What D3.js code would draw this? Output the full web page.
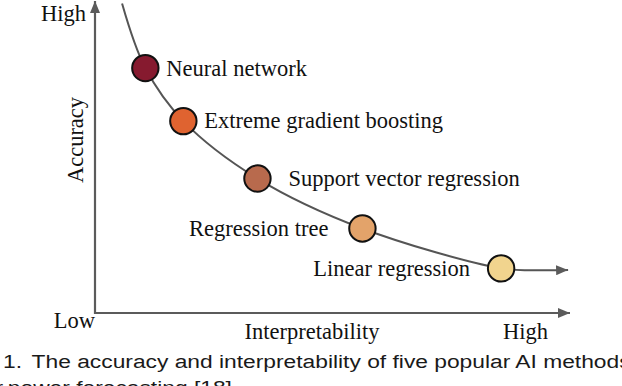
<!DOCTYPE html>
<html>
<head>
<meta charset="utf-8">
<script src="https://cdn.jsdelivr.net/npm/d3@7"></script>
<style>
  html, body { margin: 0; padding: 0; background: #fff; }
  svg { display: block; }
</style>
</head>
<body>
<svg id="chart" width="622" height="386"></svg>
<script>
// ---- data ----
const methods = ["Neural network", "Extreme gradient boosting", "Support vector regression", "Regression tree", "Linear regression"];
const interpretability = [1.06, 1.86, 3.42, 5.63, 8.55];
const accuracy = [7.85, 6.15, 4.31, 2.71, 1.43];
const methodColors = ["#861a2f", "#df6330", "#b86a4d", "#e3a36a", "#f1d48e"];
// trade-off curve (start, through the methods, end)
const curveX = [0.57, 1.06, 1.86, 3.42, 5.63, 8.55, 9.2, 9.96];
const curveY = [9.92, 7.85, 6.15, 4.31, 2.71, 1.43, 1.37, 1.38];
const axisLabels = { yTitle: "Accuracy", xTitle: "Interpretability", low: "Low", high: "High" };
const captionLine1 = "The accuracy and interpretability of five popular AI methods in";
const captionLine2 = "power forecasting [18]";

// ---- layout ----
const svg = d3.select("#chart");
const x = d3.scaleLinear().domain([0, 10]).range([95, 570]);
const y = d3.scaleLinear().domain([0, 10]).range([313, 1]);
const serif = "'Liberation Serif', 'Times New Roman', serif";
const fs = 22.5;
const axisColor = "#5b5b5b";

const defs = svg.append("defs");
defs.append("marker")
  .attr("id", "arrow")
  .attr("viewBox", "0 0 12 10")
  .attr("refX", 12).attr("refY", 5)
  .attr("markerUnits", "userSpaceOnUse")
  .attr("markerWidth", 12).attr("markerHeight", 10)
  .attr("orient", "auto")
  .append("path").attr("d", "M0,0 L12,5 L0,10 Z").attr("fill", axisColor);

// axes
svg.append("path")
  .attr("d", d3.line()([[x(0), y(0) + 1], [x(0), y(10)]]))
  .attr("stroke", axisColor).attr("stroke-width", 2.2).attr("fill", "none")
  .attr("marker-end", "url(#arrow)");
svg.append("path")
  .attr("d", d3.line()([[x(0) - 1, y(0)], [x(10), y(0)]]))
  .attr("stroke", axisColor).attr("stroke-width", 2.2).attr("fill", "none")
  .attr("marker-end", "url(#arrow)");

// curve
const curvePts = curveX.map((v, i) => [x(v), y(curveY[i])]);
svg.append("path")
  .attr("d", d3.line().curve(d3.curveCatmullRom.alpha(0.5))(curvePts))
  .attr("stroke", "#555").attr("stroke-width", 2).attr("fill", "none")
  .attr("marker-end", "url(#arrow)");

// points
const labelLayout = [
  { dx: 21, dy: 8, anchor: "start" },
  { dx: 21, dy: 7, anchor: "start" },
  { dx: 31, dy: 7, anchor: "start" },
  { dx: -34, dy: 8, anchor: "end" },
  { dx: -31, dy: 8, anchor: "end" }
];
methods.forEach((m, i) => {
  const cx = x(interpretability[i]), cy = y(accuracy[i]);
  svg.append("circle")
    .attr("cx", cx).attr("cy", cy).attr("r", 13.2)
    .attr("fill", methodColors[i]).attr("stroke", "#111").attr("stroke-width", 2);
  svg.append("text")
    .attr("x", cx + labelLayout[i].dx).attr("y", cy + labelLayout[i].dy)
    .attr("text-anchor", labelLayout[i].anchor)
    .attr("font-family", serif).attr("font-size", fs).attr("fill", "#111")
    .text(m);
});

// axis texts
svg.append("text").attr("x", 86).attr("y", 21).attr("text-anchor", "end")
  .attr("font-family", serif).attr("font-size", fs).attr("fill", "#111").text(axisLabels.high);
svg.append("text").attr("x", 95).attr("y", 328).attr("text-anchor", "end")
  .attr("font-family", serif).attr("font-size", fs).attr("fill", "#111").text(axisLabels.low);
svg.append("text").attr("x", 548).attr("y", 339).attr("text-anchor", "end")
  .attr("font-family", serif).attr("font-size", fs).attr("fill", "#111").text(axisLabels.high);
svg.append("text").attr("x", 312).attr("y", 339).attr("text-anchor", "middle")
  .attr("font-family", serif).attr("font-size", fs).attr("fill", "#111").text(axisLabels.xTitle);
svg.append("text")
  .attr("transform", "translate(83,140) rotate(-90)")
  .attr("text-anchor", "middle")
  .attr("font-family", serif).attr("font-size", fs).attr("fill", "#111").text(axisLabels.yTitle);

// caption (slightly widened, as in the reference)
const sans = "'Liberation Sans', Arial, sans-serif";
const capG = svg.append("g").attr("transform", "translate(3,0) scale(1.2,1)");
const cap = capG.append("text").attr("x", 0).attr("y", 368)
  .attr("font-family", sans).attr("font-size", 19).attr("fill", "#1a1a1a");
cap.append("tspan").text("1.");
cap.append("tspan").attr("dx", 8).text(captionLine1);
capG.append("text").attr("x", 0).attr("y", 394).attr("text-anchor", "end")
  .attr("font-family", sans).attr("font-size", 19).attr("fill", "#1a1a1a").text("solar");
capG.append("text").attr("x", 4).attr("y", 394)
  .attr("font-family", sans).attr("font-size", 19).attr("fill", "#1a1a1a").text(captionLine2);
</script>
</body>
</html>
